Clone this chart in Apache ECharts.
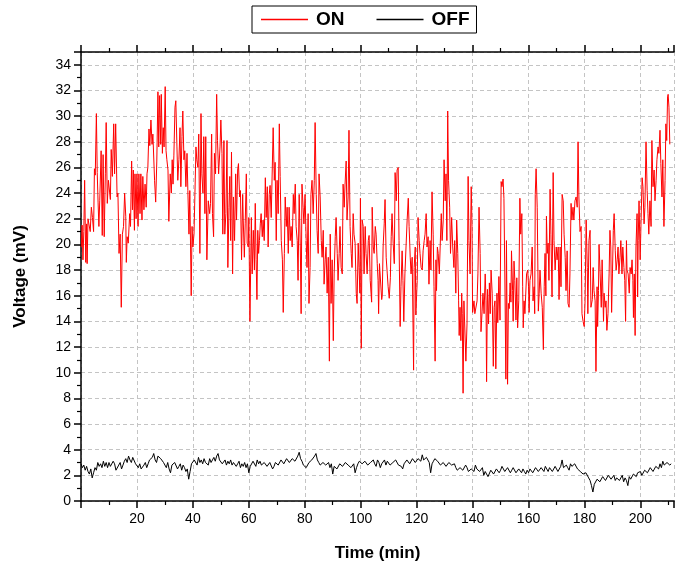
<!DOCTYPE html>
<html>
<head>
<meta charset="utf-8">
<script src="https://cdn.jsdelivr.net/npm/echarts@6/dist/echarts.min.js"></script>
<style>html,body{margin:0;padding:0;background:#fff;}#c{width:675px;height:567px;}</style>
</head>
<body>
<div id="c"></div>
<script>
var seriesNames = ['ON', 'OFF'];
var xTitle = 'Time (min)';
var yTitle = 'Voltage (mV)';

var onTime = [0.1,0.4,0.7,1.0,1.3,1.7,2.0,2.2,2.5,2.9,3.3,3.7,4.1,4.5,4.8,5.1,5.5,5.8,6.1,6.4,6.7,7.2,7.6,7.9,8.3,8.7,9.0,9.4,9.8,10.2,10.5,10.8,11.2,11.7,12.0,12.4,12.9,13.2,13.6,14.0,14.4,14.8,15.2,15.6,16.0,16.2,16.5,16.9,17.4,17.7,18.1,18.4,18.7,19.1,19.3,19.7,20.0,20.4,20.7,21.1,21.4,21.8,22.1,22.5,22.9,23.3,23.6,23.9,24.3,24.6,25.0,25.4,25.7,26.3,26.7,27.1,27.5,27.8,28.1,28.5,28.7,29.1,29.4,29.7,30.1,30.4,30.7,31.1,31.4,31.9,32.3,32.6,32.9,33.2,33.6,33.9,34.3,34.6,35.0,35.4,35.7,36.1,36.4,36.8,37.1,37.5,37.9,38.2,38.6,38.9,39.4,39.7,40.0,40.4,40.7,41.1,41.4,41.8,42.1,42.5,42.9,43.2,43.6,43.9,44.3,44.6,45.0,45.5,46.0,46.3,46.7,47.0,47.4,47.7,48.1,48.5,48.8,49.2,49.7,50.0,50.4,50.7,51.1,51.4,51.8,52.2,52.5,52.9,53.2,53.5,53.8,54.2,54.5,54.9,55.3,55.6,56.0,56.3,56.7,57.0,57.4,57.8,58.0,58.4,58.7,59.1,59.4,59.8,60.0,60.4,60.9,61.2,61.6,62.0,62.3,62.6,62.9,63.2,63.5,63.8,64.1,64.4,64.8,65.1,65.5,65.9,66.2,66.6,66.9,67.3,67.6,68.0,68.4,68.7,69.1,69.4,69.8,70.1,70.5,70.9,71.2,71.6,72.0,72.3,72.7,73.0,73.4,73.7,74.1,74.4,74.8,75.1,75.5,75.9,76.2,76.6,76.9,77.3,77.6,78.0,78.4,78.7,79.0,79.4,79.7,80.1,80.5,80.8,81.2,81.5,81.9,82.2,82.6,83.0,83.4,83.7,84.1,84.4,84.8,85.1,85.5,85.9,86.2,86.6,86.9,87.3,87.6,88.0,88.4,88.8,89.1,89.4,89.8,90.2,90.5,90.9,91.2,91.6,91.9,92.3,92.6,93.0,93.4,93.7,94.1,94.4,94.8,95.1,95.5,95.8,96.2,96.6,96.9,97.3,97.6,98.0,98.4,98.7,99.1,99.4,99.7,99.9,100.2,100.5,100.9,101.2,101.6,101.9,102.3,102.7,103.0,103.4,103.9,104.1,104.5,104.8,105.2,105.5,105.9,106.2,106.4,106.7,107.0,107.5,107.7,108.0,108.4,108.7,109.1,109.5,109.8,110.2,110.6,110.9,111.2,111.6,112.0,112.3,112.7,113.0,113.4,113.7,114.1,114.4,114.8,115.1,115.4,115.8,116.2,116.6,117.0,117.3,117.7,118.0,118.4,118.9,119.1,119.5,119.7,120.2,120.5,120.9,121.2,121.6,122.0,122.3,122.7,123.0,123.4,123.7,124.1,124.4,124.8,125.1,125.5,125.9,126.2,126.6,126.9,127.1,127.4,127.7,128.1,128.4,128.8,129.1,129.5,129.8,130.2,130.5,130.8,131.1,131.4,131.8,132.1,132.5,132.9,133.3,133.6,134.0,134.3,134.7,135.0,135.2,135.5,135.8,136.1,136.3,136.6,136.9,137.2,137.6,138.0,138.4,138.7,139.1,139.5,139.8,140.0,140.5,140.8,141.2,141.6,141.9,142.3,142.7,143.0,143.4,143.7,144.1,144.5,144.8,145.0,145.3,145.7,146.0,146.3,146.6,147.0,147.4,147.7,148.0,148.3,148.7,149.0,149.4,149.8,150.2,150.5,150.9,151.2,151.5,151.9,152.1,152.5,152.8,153.1,153.4,153.7,153.9,154.3,154.5,154.8,155.1,155.5,155.8,156.1,156.5,156.9,157.2,157.6,157.9,158.1,158.4,158.7,159.0,159.3,159.7,160.0,160.2,160.5,160.9,161.3,161.6,162.0,162.2,162.4,162.7,163.1,163.5,163.8,164.1,164.5,164.9,165.3,165.6,165.9,166.2,166.4,166.7,167.0,167.3,167.7,168.0,168.4,168.8,169.1,169.5,169.9,170.2,170.6,170.9,171.3,171.6,172.0,172.4,172.7,173.1,173.4,173.8,174.1,174.5,174.8,175.2,175.5,175.9,176.2,176.6,177.0,177.4,177.7,178.0,178.4,178.8,179.1,179.5,179.9,180.2,180.6,181.0,181.2,181.6,182.0,182.3,182.8,183.1,183.4,183.8,184.1,184.5,184.7,185.0,185.2,185.6,186.0,186.3,186.8,187.0,187.4,187.7,188.0,188.4,188.8,189.1,189.4,189.7,190.0,190.3,190.6,191.0,191.3,191.7,192.0,192.3,192.7,193.0,193.4,193.7,194.1,194.4,194.7,195.0,195.2,195.6,196.0,196.3,196.7,197.0,197.3,197.5,197.8,198.1,198.4,198.8,199.0,199.2,199.5,199.9,200.2,200.6,200.9,201.3,201.6,202.0,202.4,202.7,203.0,203.4,203.8,204.1,204.5,204.9,205.2,205.6,205.9,206.3,206.6,207.0,207.3,207.7,208.0,208.4,208.8,209.1,209.4,209.7,209.9,210.2,210.5];

var onVolt = [19.8,21.5,18.8,21.0,25.0,18.6,21.6,18.5,22.0,22.1,21.0,22.9,22.1,21.0,25.9,25.4,30.2,25.6,23.3,21.4,23.4,27.3,20.7,27.0,20.6,25.5,29.5,23.2,25.0,25.0,23.5,27.4,25.3,29.4,25.5,29.4,23.7,24.0,19.3,20.8,15.1,20.8,21.4,24.0,22.2,18.6,20.6,20.1,22.4,21.4,26.5,22.7,25.8,21.1,25.5,22.0,25.5,21.4,25.5,22.4,25.5,21.9,25.3,22.7,24.7,22.9,25.5,26.0,29.0,27.7,29.7,27.8,28.6,25.0,23.3,26.5,31.9,27.6,31.6,27.8,31.7,27.1,29.1,27.6,32.3,27.3,26.6,25.8,21.8,25.5,24.0,26.6,24.7,26.9,30.7,31.2,27.6,25.0,26.6,29.1,24.5,28.4,30.4,26.6,27.3,24.5,27.1,24.2,20.8,24.2,16.0,21.4,19.8,20.8,23.7,27.6,26.6,26.0,28.6,19.3,30.2,25.5,24.0,28.4,22.4,28.4,18.8,23.4,22.4,23.2,28.6,22.4,20.6,27.1,25.5,31.7,28.1,25.5,27.6,29.7,27.1,20.8,28.1,20.8,22.4,28.1,18.2,22.9,25.3,20.3,27.2,17.7,23.7,20.3,25.5,21.9,25.8,26.3,23.7,24.2,18.8,23.9,21.9,19.0,21.6,25.5,20.1,19.8,22.1,14.0,22.1,17.7,21.1,18.0,23.2,18.8,15.7,21.1,19.3,20.3,21.6,22.4,20.6,21.9,20.3,25.2,22.1,24.5,19.8,23.9,24.6,22.1,22.1,29.1,25.0,26.4,20.3,25.0,22.4,29.4,25.3,20.3,18.8,14.7,19.3,23.7,21.4,22.9,19.3,22.9,20.3,21.4,19.8,23.9,22.4,24.7,21.4,20.3,17.2,23.9,19.8,14.6,24.7,22.9,21.6,23.9,20.3,18.2,22.4,15.4,18.2,23.9,25.0,22.4,25.0,29.5,23.9,21.1,19.3,25.5,23.7,20.3,19.0,21.1,16.9,18.8,19.8,16.2,19.0,10.9,20.8,15.4,18.8,12.5,17.7,20.6,22.1,19.3,17.2,19.3,21.4,18.2,17.7,24.7,22.9,24.7,26.5,21.9,23.7,28.9,21.4,19.3,18.2,22.4,20.8,20.1,16.2,15.4,20.1,18.2,16.2,23.6,11.9,21.9,21.4,17.7,21.4,19.3,17.7,20.3,20.7,17.2,15.5,22.9,19.8,19.3,21.4,20.8,18.5,17.2,14.6,18.5,18.5,15.7,16.0,19.8,21.6,23.5,19.0,17.7,16.7,15.8,17.4,20.6,22.4,20.1,18.5,25.6,23.4,25.8,26.0,20.3,13.6,16.7,19.5,17.2,14.0,17.7,19.8,21.9,23.6,21.4,19.0,17.7,19.0,10.2,18.2,19.8,14.5,17.2,22.1,20.3,19.3,18.2,18.0,19.5,20.3,20.8,22.4,19.8,20.6,16.9,20.3,18.0,24.1,20.8,16.7,10.9,18.8,16.4,19.8,19.3,17.7,19.8,22.4,20.3,21.9,26.6,23.4,25.5,20.3,30.4,25.0,22.9,19.3,22.1,19.8,18.2,20.3,16.2,21.9,19.3,15.6,12.9,15.1,12.5,16.2,14.6,8.4,15.6,15.6,10.9,13.8,25.3,20.3,17.7,24.5,21.4,14.7,15.6,14.6,14.6,15.6,17.7,22.9,19.3,13.2,14.8,16.2,14.6,17.7,15.6,9.3,16.5,13.8,17.0,14.6,18.0,16.2,10.5,15.1,15.6,10.3,16.2,13.9,17.5,14.1,24.9,24.5,25.1,23.6,18.0,9.5,20.3,9.1,15.4,15.0,17.0,15.5,19.5,16.4,14.0,18.7,17.2,14.1,17.4,13.5,15.6,23.6,20.8,22.4,16.7,13.5,15.6,14.6,14.7,17.7,18.0,16.7,14.7,17.2,17.7,19.8,15.6,16.7,14.6,23.9,25.9,22.9,14.8,16.2,18.0,16.2,15.1,11.8,16.7,19.3,16.0,22.2,19.3,20.1,17.2,24.3,20.8,15.9,25.6,20.3,18.0,19.8,18.8,19.8,15.7,19.8,16.7,23.9,23.4,20.8,19.0,16.4,19.5,15.4,15.1,17.7,23.2,21.9,22.9,21.9,23.4,23.7,22.9,28.0,23.7,21.0,21.4,14.6,14.0,13.6,15.6,21.9,18.2,14.6,20.3,21.1,15.1,15.7,18.2,16.4,15.6,10.1,16.7,13.6,16.4,20.0,17.7,15.1,18.8,14.0,16.2,15.1,15.6,13.3,14.6,17.7,21.1,19.8,14.7,17.7,21.1,22.4,19.5,18.0,18.8,19.8,17.7,19.0,20.3,17.7,19.8,18.2,17.2,14.0,20.3,18.0,17.7,16.2,18.2,17.7,18.8,17.2,14.3,17.7,12.9,19.8,22.4,15.9,20.3,23.4,18.8,21.6,25.2,24.5,21.6,22.9,28.0,24.2,22.4,20.8,23.4,21.4,28.1,24.5,25.8,23.4,25.0,26.6,27.6,27.1,28.9,26.3,23.7,26.6,21.4,25.0,29.4,28.1,31.5,31.7,30.7,27.8];

var offTime = [0,0.5,1,1.5,2,2.5,3,3.5,4,4.5,5,5.5,6,6.5,7,7.5,8,8.5,9,9.5,10,10.5,11,11.5,12,12.5,13,13.5,14,14.5,15,15.5,16,16.5,17,17.5,18,18.5,19,19.5,20,20.5,21,21.5,22,22.5,23,23.5,24,24.5,25,25.5,26,26.5,27,27.5,28,28.5,29,29.5,30,30.5,31,31.5,32,32.5,33,33.5,34,34.5,35,35.5,36,36.5,37,37.5,38,38.5,39,39.5,40,40.5,41,41.5,42,42.5,43,43.5,44,44.5,45,45.5,46,46.5,47,47.5,48,48.5,49,49.5,50,50.5,51,51.5,52,52.5,53,53.5,54,54.5,55,55.5,56,56.5,57,57.5,58,58.5,59,59.5,60,60.5,61,61.5,62,62.5,63,63.5,64,64.5,65,65.5,66,66.5,67,67.5,68,68.5,69,69.5,70,70.5,71,71.5,72,72.5,73,73.5,74,74.5,75,75.5,76,76.5,77,77.5,78,78.5,79,79.5,80,80.5,81,81.5,82,82.5,83,83.5,84,84.5,85,85.5,86,86.5,87,87.5,88,88.5,89,89.5,90,90.5,91,91.5,92,92.5,93,93.5,94,94.5,95,95.5,96,96.5,97,97.5,98,98.5,99,99.5,100,100.5,101,101.5,102,102.5,103,103.5,104,104.5,105,105.5,106,106.5,107,107.5,108,108.5,109,109.5,110,110.5,111,111.5,112,112.5,113,113.5,114,114.5,115,115.5,116,116.5,117,117.5,118,118.5,119,119.5,120,120.5,121,121.5,122,122.5,123,123.5,124,124.5,125,125.5,126,126.5,127,127.5,128,128.5,129,129.5,130,130.5,131,131.5,132,132.5,133,133.5,134,134.5,135,135.5,136,136.5,137,137.5,138,138.5,139,139.5,140,140.5,141,141.5,142,142.5,143,143.5,144,144.5,145,145.5,146,146.5,147,147.5,148,148.5,149,149.5,150,150.5,151,151.5,152,152.5,153,153.5,154,154.5,155,155.5,156,156.5,157,157.5,158,158.5,159,159.5,160,160.5,161,161.5,162,162.5,163,163.5,164,164.5,165,165.5,166,166.5,167,167.5,168,168.5,169,169.5,170,170.5,171,171.5,172,172.5,173,173.5,174,174.5,175,175.5,176,176.5,177,177.5,178,178.5,179,179.5,180,180.5,181,181.5,182,182.5,183,183.5,184,184.5,185,185.5,186,186.5,187,187.5,188,188.5,189,189.5,190,190.5,191,191.5,192,192.5,193,193.5,194,194.5,195,195.5,196,196.5,197,197.5,198,198.5,199,199.5,200,200.5,201,201.5,202,202.5,203,203.5,204,204.5,205,205.5,206,206.5,207,207.5,208,208.5,209,209.5,210,210.5,211];

var offVolt = [
2.9,2.6,2.8,2.4,2.7,2.3,2.1,2.5,1.8,2.2,
2.6,2.4,3.0,2.7,2.9,2.6,3.1,2.7,3.0,2.6,
3.0,2.7,2.6,3.1,2.9,2.4,2.3,2.8,3.0,2.5,
2.8,3.1,3.3,3.0,3.5,3.2,3.0,3.4,3.3,2.9,
2.8,2.6,2.9,2.5,2.4,2.8,3.0,2.6,2.9,3.2,
3.1,3.4,3.7,3.2,3.0,3.5,3.6,3.3,3.4,3.0,
2.9,2.6,3.0,2.5,2.2,2.8,2.7,3.0,2.9,2.5,
2.7,2.9,2.4,2.8,2.6,2.3,2.5,1.7,2.3,2.9,
2.9,3.2,3.1,2.8,3.4,3.0,3.2,2.9,3.3,3.0,
3.1,2.8,3.3,3.0,3.2,3.4,3.1,3.5,3.7,3.2,
3.1,2.9,3.0,3.2,2.8,3.1,2.9,3.2,2.8,3.0,
3.0,2.7,2.9,3.1,2.6,2.9,2.7,3.0,2.6,2.9,
2.2,2.7,2.8,3.1,3.0,2.7,3.2,2.9,3.1,2.8,
2.8,3.0,3.0,2.7,2.6,3.0,2.9,2.5,2.7,3.0,
3.1,2.8,2.9,3.2,3.2,2.9,3.0,3.3,3.3,3.0,
3.0,3.3,3.4,3.1,3.2,3.5,3.8,3.3,3.1,2.8,
2.8,2.6,2.6,3.0,3.1,3.2,3.3,3.5,3.7,3.2,
3.0,2.8,2.7,3.0,3.1,2.8,2.8,3.0,2.6,2.9,
2.1,2.7,2.8,2.5,2.6,2.9,3.0,2.7,2.7,3.0,
3.1,2.8,2.9,2.6,2.6,2.9,2.2,2.6,2.9,3.1,
3.2,2.9,2.8,3.1,3.1,2.8,2.7,3.0,3.0,3.2,
2.9,2.7,3.2,3.0,2.6,2.9,3.0,3.2,2.8,3.1,
3.1,2.8,2.7,3.0,2.9,3.2,3.1,2.8,2.9,2.7,
2.5,2.9,3.0,3.2,3.2,2.9,2.9,3.3,3.3,3.0,
3.1,3.3,3.4,3.1,3.6,3.2,3.1,3.4,3.3,3.0,
2.2,2.9,3.1,3.3,3.4,3.1,3.0,2.8,2.8,3.0,
3.0,2.7,2.8,3.0,3.1,2.8,2.7,2.9,2.6,2.4,
2.3,2.6,2.7,2.4,2.5,2.8,2.6,2.3,2.2,2.5,
2.5,2.3,2.8,2.5,2.6,2.3,2.4,2.6,2.0,2.3,
2.3,1.9,2.0,2.4,2.5,2.1,2.1,2.5,2.6,2.2,
2.4,2.7,2.7,2.3,2.3,2.6,2.6,2.2,2.4,2.6,
2.5,2.2,2.2,2.5,2.4,2.2,2.5,2.3,2.1,2.4,
2.2,2.5,2.5,2.2,2.3,2.6,2.6,2.3,2.4,2.6,
2.5,2.3,2.7,2.5,2.3,2.6,2.6,2.3,2.4,2.7,
2.6,2.3,2.4,2.7,3.2,2.6,2.5,2.8,2.6,2.4,
2.9,2.7,2.7,2.9,2.8,2.5,2.5,2.3,2.4,2.1,
2.0,2.2,2.1,1.8,1.6,1.2,0.7,1.3,1.4,1.7,
1.7,1.5,1.6,1.9,1.8,1.6,1.7,2.0,1.9,1.7,
1.8,2.0,1.6,1.8,1.9,1.6,1.7,2.0,1.5,1.8,
1.6,1.2,1.9,1.7,1.8,2.1,2.0,1.9,2.2,2.3,
2.3,2.0,2.1,2.4,2.5,2.2,2.3,2.6,2.6,2.3,
2.4,2.7,2.7,2.5,2.9,2.6,3.1,2.8,2.7,3.0,
3.0,2.8,2.9];

function pairs(xs, ys) { var out = []; for (var i = 0; i < xs.length; i++) out.push([xs[i], ys[i]]); return out; }

var chart = echarts.init(document.getElementById('c'));
var font = '"Liberation Sans", Arial, sans-serif';
var splitStyle = { show: true, lineStyle: { color: '#c4c4c4', type: [4, 3], width: 1 } };
chart.setOption({
  animation: false,
  backgroundColor: '#fff',
  grid: { left: 81, right: 1, top: 52, bottom: 66, containLabel: false },
  legend: {
    data: [
      { name: seriesNames[0], itemStyle: { color: '#ff0000' } },
      { name: seriesNames[1], itemStyle: { color: '#000' } }
    ],
    left: 252, top: 6,
    icon: 'rect', itemWidth: 47, itemHeight: 1.5, itemGap: 32,
    borderColor: '#000', borderWidth: 1, padding: [4, 7, 4, 9],
    backgroundColor: '#fff',
    textStyle: { fontFamily: font, fontWeight: 'bold', fontSize: 19, color: '#000', padding: [0, 0, 0, 3] }
  },
  xAxis: [{
    type: 'value', min: 0, max: 212, interval: 20,
    name: xTitle, nameLocation: 'middle', nameGap: 44,
    nameTextStyle: { fontFamily: font, fontWeight: 'bold', fontSize: 17, color: '#000' },
    axisLine: { show: true, onZero: false, lineStyle: { color: '#000', width: 1.5 } },
    axisTick: { show: true, inside: false, length: 7, lineStyle: { color: '#000', width: 1.5 } },
    minorTick: { show: true, splitNumber: 2, length: 4, lineStyle: { color: '#000', width: 1.2 } },
    axisLabel: { fontFamily: font, fontSize: 14, color: '#000', margin: 11, showMinLabel: false, showMaxLabel: false },
    splitLine: splitStyle
  }, {
    type: 'value', min: 0, max: 212, interval: 20, position: 'top',
    axisLine: { show: true, onZero: false, lineStyle: { color: '#000', width: 1.5 } },
    axisTick: { show: true, inside: false, length: 7, lineStyle: { color: '#000', width: 1.5 } },
    minorTick: { show: true, splitNumber: 2, length: 4, lineStyle: { color: '#000', width: 1.2 } },
    axisLabel: { show: false },
    splitLine: { show: false }
  }],
  yAxis: {
    type: 'value', min: 0, max: 35, interval: 2,
    name: yTitle, nameLocation: 'middle', nameGap: 52,
    nameTextStyle: { fontFamily: font, fontWeight: 'bold', fontSize: 17, color: '#000' },
    axisLine: { show: true, onZero: false, lineStyle: { color: '#000', width: 1.5 } },
    axisTick: { show: true, inside: false, length: 7, lineStyle: { color: '#000', width: 1.5 } },
    minorTick: { show: true, splitNumber: 2, length: 4, lineStyle: { color: '#000', width: 1.2 } },
    axisLabel: { fontFamily: font, fontSize: 14, color: '#000', margin: 10, showMaxLabel: false },
    splitLine: splitStyle
  },
  series: [{
    name: seriesNames[0], type: 'line', xAxisIndex: 0,
    data: pairs(onTime, onVolt), showSymbol: false, symbol: 'none',
    lineStyle: { color: '#ff0000', width: 1 }, itemStyle: { color: '#ff0000' }
  }, {
    name: seriesNames[1], type: 'line', xAxisIndex: 0,
    data: pairs(offTime, offVolt), showSymbol: false, symbol: 'none',
    lineStyle: { color: '#000', width: 1 }, itemStyle: { color: '#000' }
  }]
});
</script>
</body>
</html>
